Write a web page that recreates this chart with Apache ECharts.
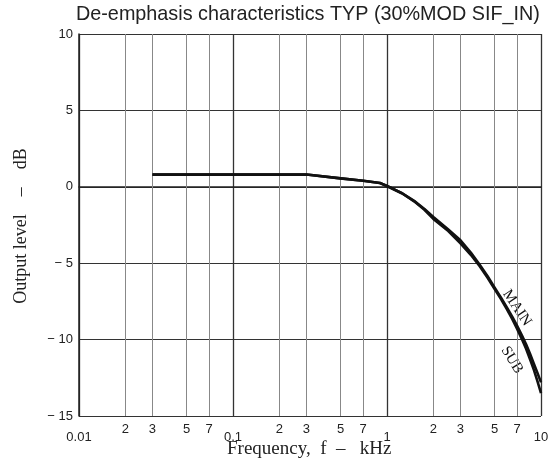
<!DOCTYPE html>
<html>
<head>
<meta charset="utf-8">
<script src="https://cdn.jsdelivr.net/npm/echarts@6/dist/echarts.min.js"></script>
<style>html,body{margin:0;padding:0;background:#fff}#c{width:552px;height:465px}</style>
</head>
<body>
<div id="c"></div>
<script>
var titleText = 'De-emphasis characteristics TYP (30%MOD SIF_IN)';
var xTitle = 'Frequency,  f  \u2013   kHz';
var yTitle = 'Output level    \u2013    dB';
var decadeLabels = {'-2': '0.01', '-1': '0.1', '0': '1', '1': '10'};
var minorTicks = [0.02, 0.03, 0.05, 0.07, 0.2, 0.3, 0.5, 0.7, 2, 3, 5, 7];
var minorTickLabels = ['2', '3', '5', '7', '2', '3', '5', '7', '2', '3', '5', '7'];
var freqMain = [0.03, 0.1, 0.2, 0.3, 0.5, 0.7, 0.9, 1, 1.25, 1.5, 1.75, 2, 2.5, 3, 3.5, 4, 4.5, 5, 5.5, 6, 6.5, 7, 7.5, 8, 8.5, 9, 9.5, 10];
var dbMain   = [0.8, 0.8, 0.8, 0.8, 0.55, 0.4, 0.25, 0.05, -0.42, -0.92, -1.45, -1.98, -2.8, -3.5, -4.3, -5.1, -5.85, -6.6, -7.25, -7.9, -8.5, -9.1, -9.7, -10.3, -10.95, -11.6, -12.2, -12.8];
var freqSub  = [0.03, 0.1, 0.2, 0.3, 0.5, 0.7, 0.9, 1, 1.25, 1.5, 1.75, 2, 2.5, 3, 3.5, 4, 4.5, 5, 5.5, 6, 6.5, 7, 7.5, 8, 8.5, 9, 9.5, 10];
var dbSub    = [0.8, 0.8, 0.8, 0.8, 0.55, 0.4, 0.25, 0.05, -0.42, -0.95, -1.5, -2.1, -2.9, -3.7, -4.45, -5.2, -5.95, -6.7, -7.35, -8.0, -8.65, -9.3, -9.95, -10.6, -11.3, -12.0, -12.75, -13.5];
var yTickFmt = {'10': '10', '5': '5', '0': '0', '-5': '\u2212 5', '-10': '\u2212 10', '-15': '\u2212 15'};

function pairs(xs, ys) { return xs.map(function (x, i) { return [x, ys[i]]; }); }

var chart = echarts.init(document.getElementById('c'), null, {renderer: 'canvas'});
chart.setOption({
  animation: false,
  backgroundColor: '#fff',
  title: {
    text: titleText, left: 71, top: 0,
    textStyle: {fontFamily: 'Liberation Sans', fontWeight: 'normal', fontSize: 19.8, color: '#222'}
  },
  grid: {left: 79, right: 11, top: 34, bottom: 49},
  xAxis: {
    type: 'log', logBase: 10, min: 0.01, max: 10,
    axisLine: {show: true, lineStyle: {color: '#222', width: 1.5}},
    axisTick: {show: false},
    axisLabel: {
      margin: 15, color: '#222', fontFamily: 'Liberation Sans', fontSize: 13,
      formatter: function (v) {
        var k = (Math.round(Math.log10(v))).toString();
        return decadeLabels[k] || '';
      }
    },
    splitLine: {show: true, lineStyle: {color: '#333', width: 1.3}}
  },
  yAxis: {
    type: 'value', min: -15, max: 10, interval: 5,
    axisLine: {show: true, lineStyle: {color: '#222', width: 1.5}},
    axisTick: {show: false},
    axisLabel: {
      margin: 6, color: '#222', fontFamily: 'Liberation Sans', fontSize: 13,
      formatter: function (v) { return yTickFmt[String(v)]; }
    },
    splitLine: {show: true, lineStyle: {color: '#333', width: 1.2}}
  },
  graphic: [
    {type: 'text', x: 227, y: 459, style: {text: xTitle, font: '19px "Liberation Serif"', fill: '#222', textAlign: 'left', textVerticalAlign: 'bottom'}},
    {type: 'text', x: 21, y: 226, rotation: Math.PI / 2, style: {text: yTitle, font: '18px "Liberation Serif"', fill: '#222', textAlign: 'center', textVerticalAlign: 'middle'}},
    {type: 'text', x: 517, y: 308, rotation: -56 * Math.PI / 180, style: {text: 'MAIN', font: '15px "Liberation Serif"', fill: '#111', textAlign: 'center', textVerticalAlign: 'middle'}},
    {type: 'text', x: 512, y: 360, rotation: -58 * Math.PI / 180, style: {text: 'SUB', font: '15px "Liberation Serif"', fill: '#111', textAlign: 'center', textVerticalAlign: 'middle'}}
  ],
  series: [
    {
      name: 'MAIN', type: 'line', data: pairs(freqMain, dbMain), showSymbol: false, smooth: false,
      lineStyle: {color: '#111', width: 2.6, join: 'round'}, z: 5,
      markLine: {
        silent: true, symbol: 'none', animation: false,
        lineStyle: {color: '#888', width: 1, type: 'solid'},
        label: {show: true, position: 'start', distance: 7, color: '#222', fontFamily: 'Liberation Sans', fontSize: 13,
          formatter: function (p) { return minorTickLabels[p.dataIndex]; }},
        data: minorTicks.map(function (t) { return {xAxis: t}; })
      }
    },
    {
      name: 'SUB', type: 'line', data: pairs(freqSub, dbSub), showSymbol: false, smooth: false,
      lineStyle: {color: '#111', width: 2.6, join: 'round'}, z: 5
    }
  ]
});
</script>
</body>
</html>
